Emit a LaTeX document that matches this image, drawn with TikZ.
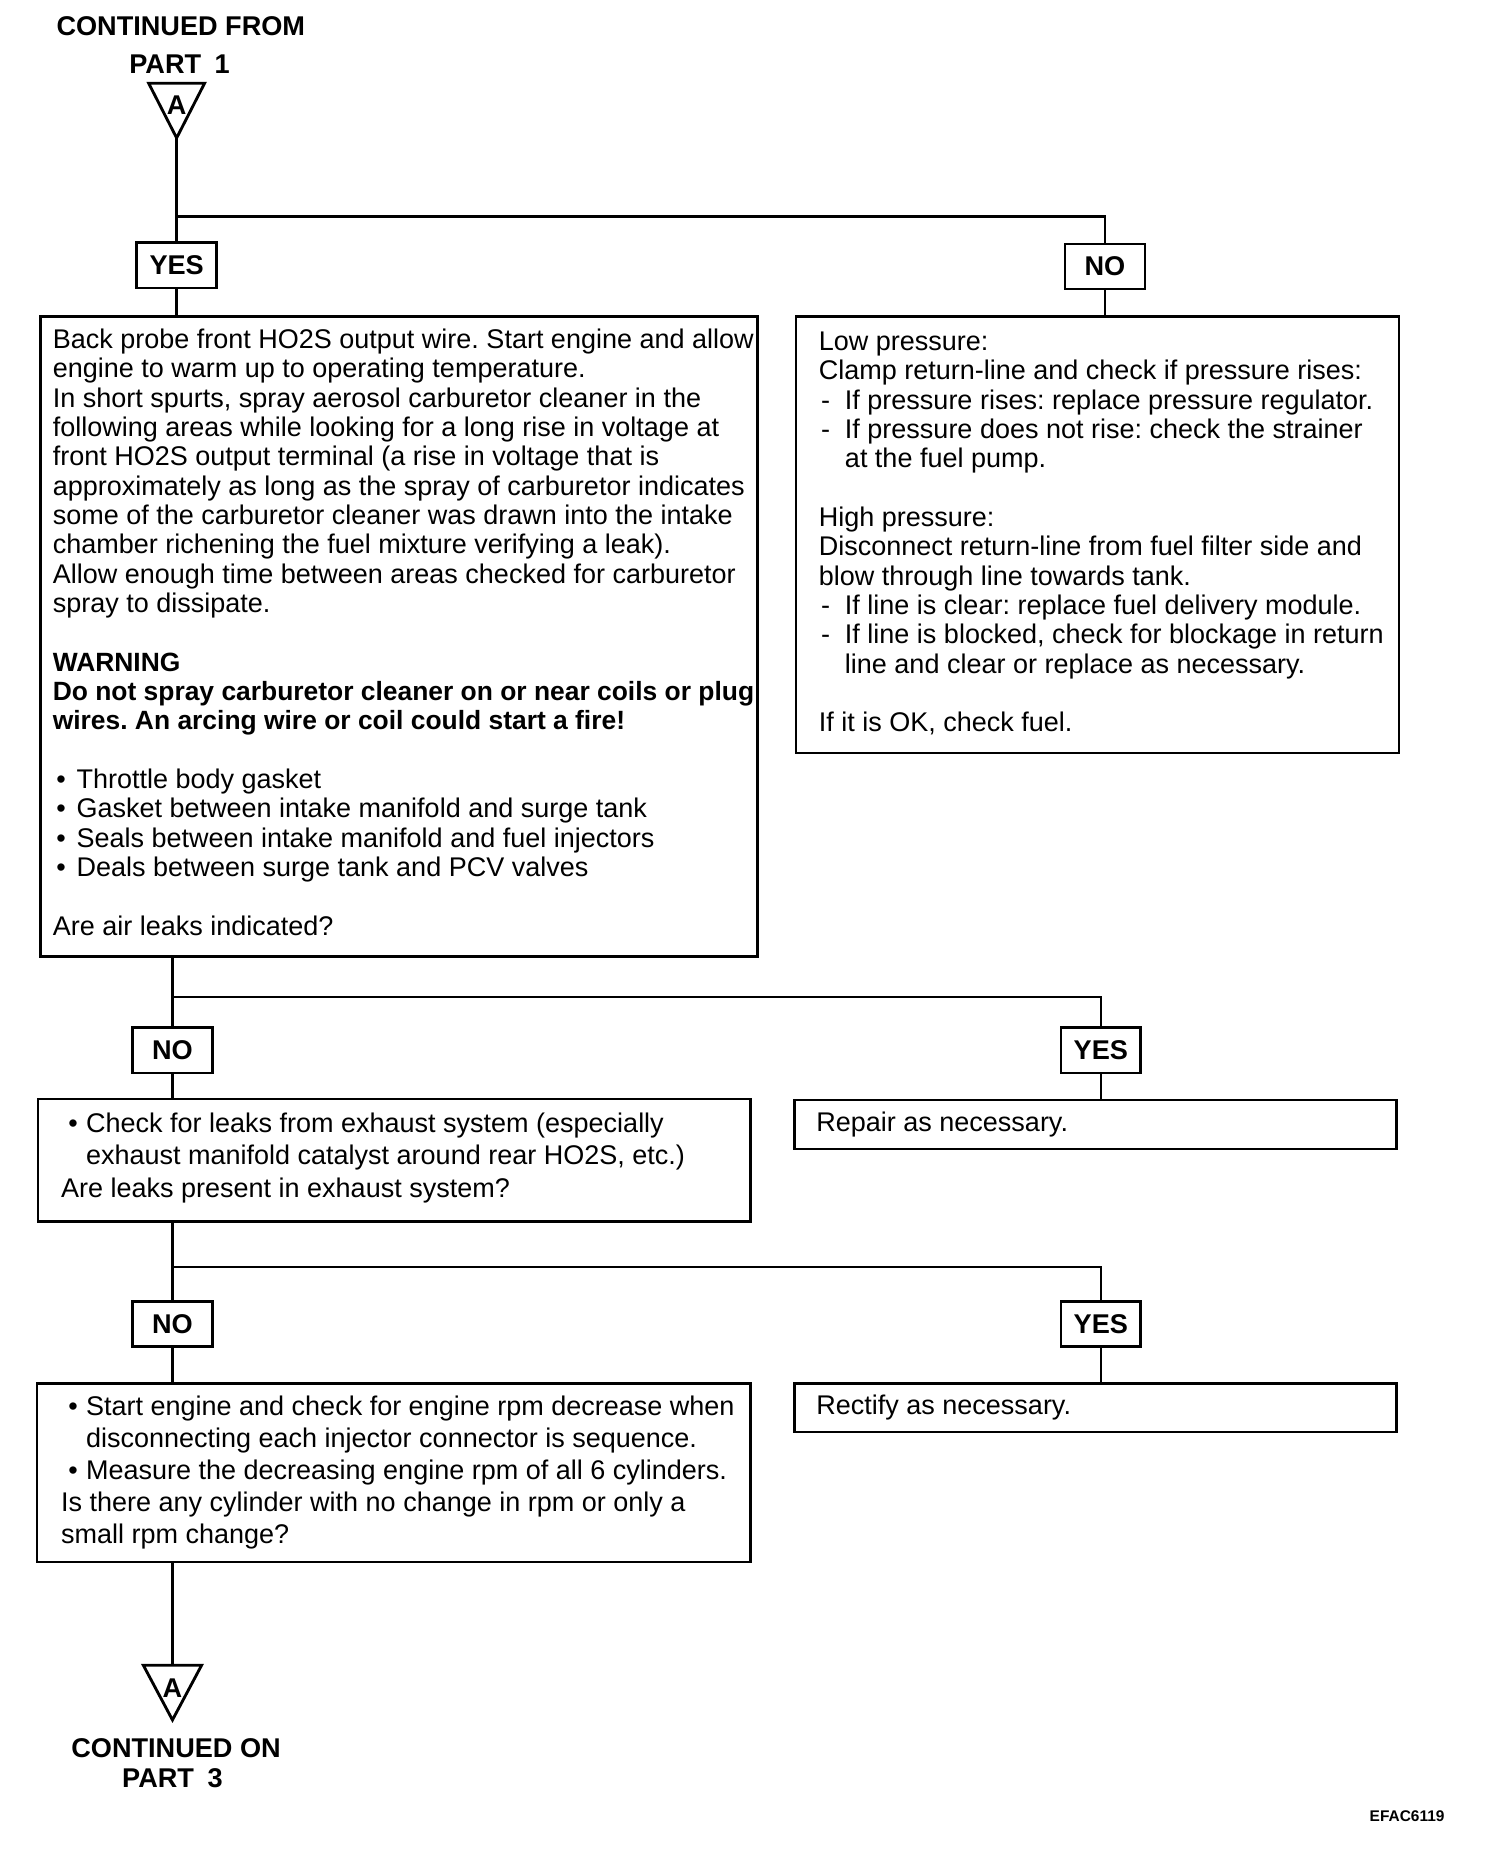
\documentclass[tikz,border=0pt]{standalone}
\usepackage{fontspec}
\setmainfont{Liberation Sans}
\frenchspacing
\newcommand{\mybul}{\makebox[10pt][l]{\hspace{1.5pt}•}}
\newcommand{\mybulb}{\makebox[10.5pt][l]{\hspace{3pt}•}}
\newcommand{\mydash}{\makebox[11pt][l]{\hspace{1pt}-}}
\begin{document}
\frenchspacing
\begin{tikzpicture}[x=0.5pt,y=-0.5pt,
  box/.style={draw, line width=1pt, inner sep=0pt, anchor=north west},
  lbl/.style={draw, line width=1.1pt, inner sep=0pt, minimum width=33.5pt, minimum height=19pt, font=\bfseries\fontsize{11.4}{12}\selectfont},
  txt/.style={inner sep=0pt, align=left, anchor=west, font=\fontsize{11.35}{12.33}\selectfont},
  txtb/.style={txt, font=\fontsize{11.35}{13.5}\selectfont},
  conn/.style={line width=1pt},
  hd/.style={font=\bfseries\fontsize{11.4}{12}\selectfont, inner sep=0pt},
  tri/.style={line width=1.2pt, line join=miter}]
\useasboundingbox (0,0) rectangle (1264.5,1568.8);

% headers
\node[hd] (cf) at (152,22) {CONTINUED FROM};
\node[hd] (p1) at (151,54) {PART\hspace{0.5em}1};
\draw[tri] (125,70) -- (172,70) -- (148.5,116) -- cycle;
\node[hd] (tAl) at (148.5,88) {A};
\coordinate (tA) at (148.5,116);

% boxes
\node[box, minimum width=301.5pt, minimum height=269pt] (b1) at (33,265) {};
\node[box, minimum width=253.5pt, minimum height=183.5pt] (r1) at (668,265) {};
\node[box, minimum width=299.5pt, minimum height=51.5pt] (b2) at (31,923) {};
\node[box, minimum width=253pt, minimum height=20.5pt] (r2) at (667,924) {};
\node[box, minimum width=300pt, minimum height=75pt] (b3) at (30,1162) {};
\node[box, minimum width=253pt, minimum height=20.5pt] (r3) at (667,1162) {};

\node[txt] (b1t) at ([xshift=5.5pt,yshift=1.75pt]b1.west) {Back probe front HO2S output wire. Start engine and allow\\
engine to warm up to operating temperature.\\
In short spurts, spray aerosol carburetor cleaner in the\\
following areas while looking for a long rise in voltage at\\
front HO2S output terminal (a rise in voltage that is\\
approximately as long as the spray of carburetor indicates\\
some of the carburetor cleaner was drawn into the intake\\
chamber richening the fuel mixture verifying a leak).\\
Allow enough time between areas checked for carburetor\\
spray to dissipate.\\[12.33pt]
{\fontsize{11.1}{12.33}\selectfont\bfseries WARNING}\\
{\fontsize{11.1}{12.33}\selectfont\bfseries Do not spray carburetor cleaner on or near coils or plug}\\
{\fontsize{11.1}{12.33}\selectfont\bfseries wires. An arcing wire or coil could start a fire!}\\[12.33pt]
\mybul Throttle body gasket\\
\mybul Gasket between intake manifold and surge tank\\
\mybul Seals between intake manifold and fuel injectors\\
\mybul Deals between surge tank and PCV valves\\[12.33pt]
Are air leaks indicated?};

\node[txt] (r1t) at ([xshift=10pt,yshift=0.5pt]r1.west) {Low pressure:\\
Clamp return-line and check if pressure rises:\\
\mydash If pressure rises: replace pressure regulator.\\
\mydash If pressure does not rise: check the strainer\\
\hspace*{11pt}at the fuel pump.\\[12.33pt]
High pressure:\\
Disconnect return-line from fuel filter side and\\
blow through line towards tank.\\
\mydash If line is clear: replace fuel delivery module.\\
\mydash If line is blocked, check for blockage in return\\
\hspace*{11pt}line and clear or replace as necessary.\\[12.33pt]
If it is OK, check fuel.};

\node[txtb] (b2t) at ([xshift=10pt,yshift=1pt]b2.west) {\mybulb Check for leaks from exhaust system (especially\\
\hspace*{10.5pt}exhaust manifold catalyst around rear HO2S, etc.)\\
Are leaks present in exhaust system?};
\node[txt] (r2t) at ([xshift=9.5pt]r2.west) {Repair as necessary.};

\node[txtb] (b3t) at ([xshift=10.5pt]b3.west) {\mybulb Start engine and check for engine rpm decrease when\\
\hspace*{10.5pt}disconnecting each injector connector is sequence.\\
\mybulb Measure the decreasing engine rpm of all 6 cylinders.\\
Is there any cylinder with no change in rpm or only a\\
small rpm change?};
\node[txt] (r3t) at ([xshift=9.5pt]r3.west) {Rectify as necessary.};

% labels
\node[lbl] (yes1) at (148.5,223) {YES};
\node[lbl] (no1) at (929,224) {NO};
\node[lbl] (no2) at (145,883) {NO};
\node[lbl] (yes2) at (925.5,883) {YES};
\node[lbl] (no3) at (145,1113) {NO};
\node[lbl] (yes3) at (925.5,1113) {YES};

% connectors
\coordinate (j1) at (148.5,182);
\coordinate (j2) at (145,838);
\coordinate (j3) at (145,1065);
\coordinate (tB) at (145,1400);
\draw[conn] (tA) -- (yes1.north);
\draw[conn] (j1) -| (no1.north);
\draw[conn] (yes1.south) -- (yes1.south |- b1.north);
\draw[conn] (no1.south) -- (no1.south |- r1.north);
\draw[conn] (no2.north |- b1.south) -- (no2.north);
\draw[conn] (j2) -| (yes2.north);
\draw[conn] (no2.south) -- (no2.south |- b2.north);
\draw[conn] (yes2.south) -- (yes2.south |- r2.north);
\draw[conn] (no3.north |- b2.south) -- (no3.north);
\draw[conn] (j3) -| (yes3.north);
\draw[conn] (no3.south) -- (no3.south |- b3.north);
\draw[conn] (yes3.south) -- (yes3.south |- r3.north);
\draw[conn] (tB |- b3.south) -- (tB);

% bottom
\draw[tri] (120.5,1400) -- (169.5,1400) -- (145,1446) -- cycle;
\node[hd] (tBl) at (145,1419) {A};
\node[hd] (co) at (148,1470) {CONTINUED ON};
\node[hd] (p3) at (145,1495) {PART\hspace{0.5em}3};
\node[font=\bfseries\fontsize{6.5}{7}\selectfont, inner sep=0pt] (ef) at (1183,1527) {EFAC6119};
\end{tikzpicture}
\end{document}
